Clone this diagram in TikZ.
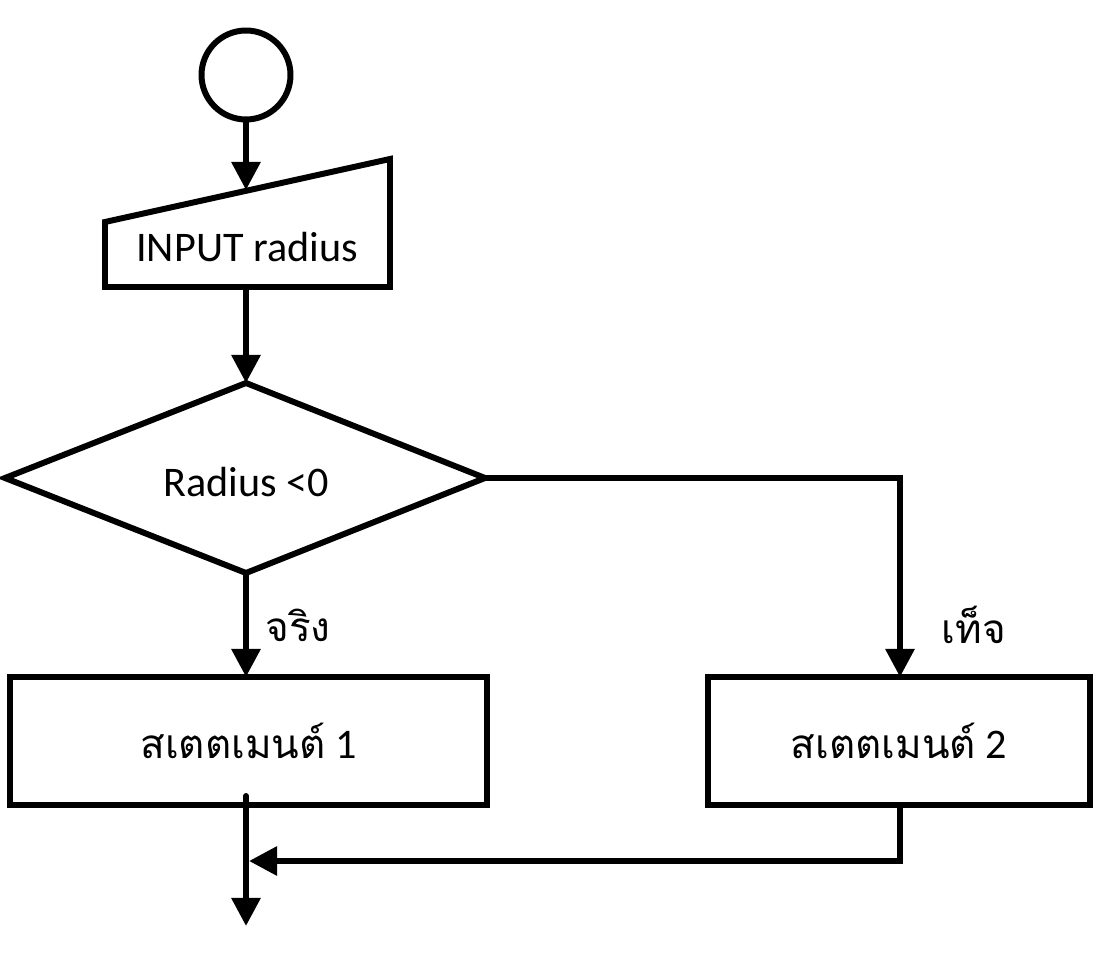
\documentclass[tikz,border=0pt]{standalone}
\usepackage{fontspec}
\setmainfont{Carlito}
\newfontfamily\thaifont[Script=Thai]{Loma}
\usetikzlibrary{arrows.meta}
\begin{document}
\begin{tikzpicture}[x=0.02cm,y=-0.02cm,
  arr/.style={line width=3.4pt, -{Triangle[length=16pt,width=16pt]}},
  shp/.style={draw, line width=3.4pt, line join=miter},
  txt/.style={font=\fontsize{24pt}{28pt}\selectfont},
  thtxt/.style={font=\fontsize{23pt}{28pt}\selectfont\thaifont}]
\useasboundingbox (0,0) rectangle (1095,959);
% start circle
\node[shp, circle, inner sep=0pt, minimum size=1.78cm] (start) at (246,75) {};
% input
\draw[shp] (105,222) -- (390,159) -- (390,287) -- (105,287) -- cycle;
\coordinate (intop) at (246,190);
\coordinate (inbot) at (246,287);
\node[txt] (input) at (247,247) {INPUT radius};
% decision
\draw[shp] (5,478) -- (246,383) -- (485,478) -- (246,573) -- cycle;
\coordinate (dtop) at (246,383);
\coordinate (dbot) at (246,573);
\coordinate (dright) at (485,478);
\coordinate (corner1) at (900,478);
\node[txt] (cond) at (246,482) {Radius <0};
% boxes
\node[shp, minimum width=477*0.02cm, minimum height=128*0.02cm, inner sep=0pt, thtxt] (s1) at (248.5,741)
  {สเตตเมนต์{\fontsize{24pt}{28pt}\selectfont\rmfamily\ 1}};
\node[shp, minimum width=382*0.02cm, minimum height=128*0.02cm, inner sep=0pt, thtxt] (s2) at (899,741)
  {สเตตเมนต์{\fontsize{24pt}{28pt}\selectfont\rmfamily\ 2}};
\coordinate (b1top) at (246,677);
\coordinate (b2top) at (900,677);
\coordinate (b2bot) at (900,805);
\coordinate (corner2) at (900,861);
\coordinate (b1start) at (246,796);
% labels
\node[thtxt] (yes) at (298,625) {จริง};
\node[thtxt] (no) at (974,625) {เท็จ};
% connectors
\coordinate (merge) at (249,861);
\coordinate (end) at (246,926);
\draw[arr] (start) -- (intop);
\draw[arr] (inbot) -- (dtop);
\draw[arr] (dbot) -- (b1top);
\draw[arr] (dright) -- (corner1) -- (b2top);
\draw[arr, line cap=round] (b1start) -- (end);
\draw[arr] (b2bot) -- (corner2) -- (merge);
\end{tikzpicture}
\end{document}
